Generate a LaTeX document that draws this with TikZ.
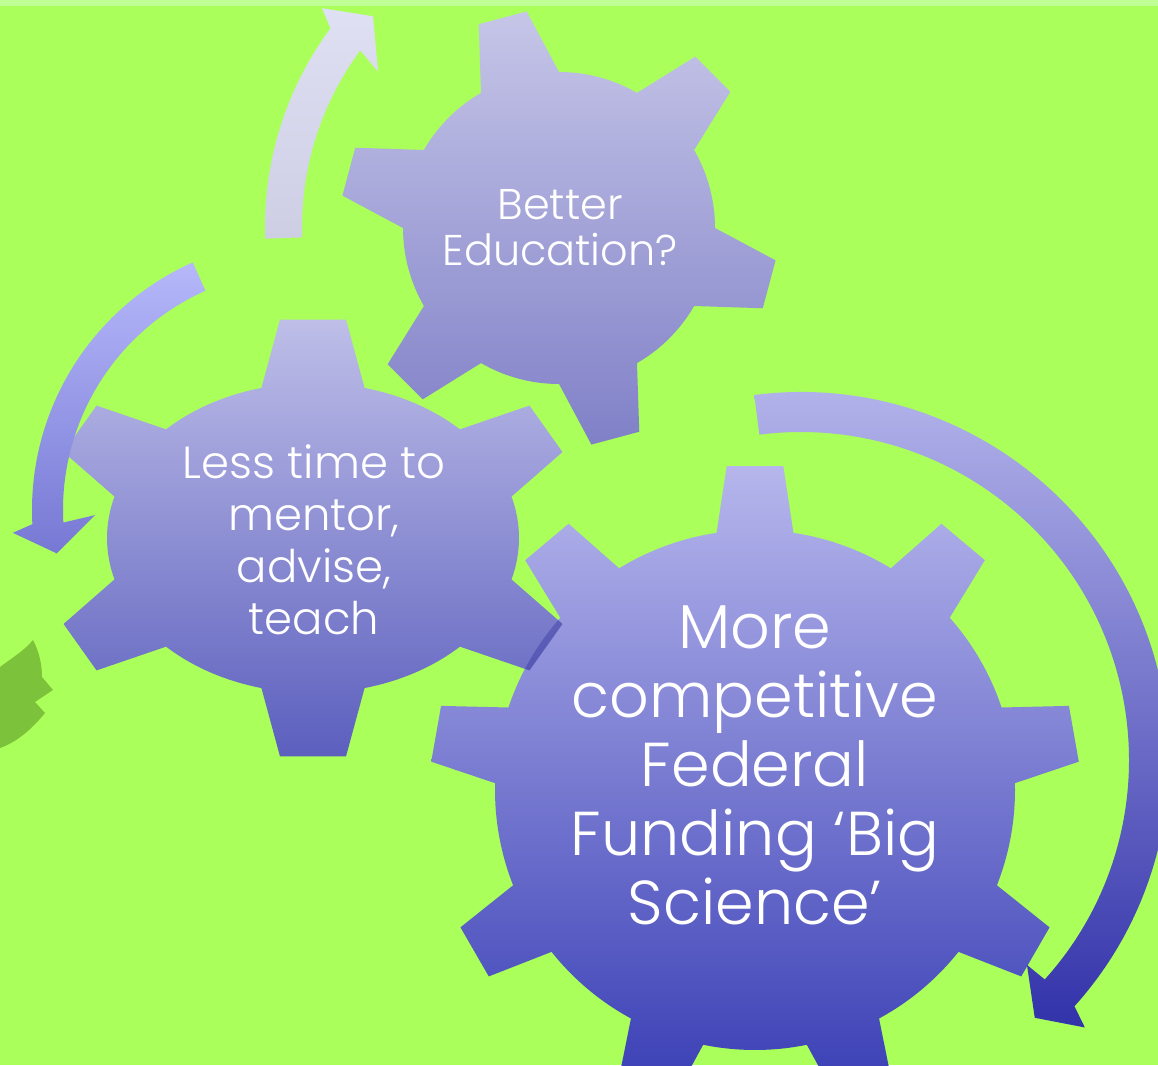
\documentclass[tikz,border=0pt]{standalone}
\usepackage{fontspec}
\setmainfont{Poppins Light}

\definecolor{lawn}{RGB}{170,255,90}
\definecolor{lawnpale}{RGB}{192,255,150}
\definecolor{leafdark}{RGB}{124,194,58}

\tikzset{
  gear label/.style={text=white, align=center, inner sep=0pt},
  gearedu/.style={top color={rgb,255:red,198;green,198;blue,232}, bottom color={rgb,255:red,128;green,128;blue,200}},
  gearmentor/.style={top color={rgb,255:red,190;green,190;blue,232}, bottom color={rgb,255:red,92;green,95;blue,190}},
  gearfund/.style={top color={rgb,255:red,182;green,182;blue,236}, bottom color={rgb,255:red,55;green,60;blue,180}},
  gearshadow/.style={fill={rgb,255:red,40;green,40;blue,150}, fill opacity=0.35},
  curlup/.style={top color={rgb,255:red,224;green,224;blue,244}, bottom color={rgb,255:red,205;green,205;blue,228}},
  curlleft/.style={top color={rgb,255:red,182;green,184;blue,250}, bottom color={rgb,255:red,118;green,120;blue,212}},
  curlright/.style={top color={rgb,255:red,182;green,182;blue,236}, bottom color={rgb,255:red,50;green,50;blue,170}},
}

% gear: path options, centre, body radii x/y, tooth height, teeth, turn, tip and foot half angles
\newcommand{\gearpath}[9]{%
  \pgfmathsetmacro\gstep{360/#6}%
  \pgfmathsetmacro\gRx{#3+#5}%
  \pgfmathsetmacro\gRy{#4+#5}%
  \path[#1, shift={(#2)}] ({#7+#9}:{#3} and {#4})
    \foreach \k in {1,...,#6}{
      arc[start angle={#7+(\k-1)*\gstep+#9}, end angle={#7+\k*\gstep-#9}, x radius=#3, y radius=#4]
      -- ({#7+\k*\gstep-#8}:{\gRx} and {\gRy}) -- ({#7+\k*\gstep+#8}:{\gRx} and {\gRy})
      -- ({#7+\k*\gstep+#9}:{#3} and {#4})
    } -- cycle;}

% curved arrow: style, centre, inner/outer radius, start, head foot, outer barb, tip, inner barb
\newcommand{\drawcurl}[9]{%
  \path[#1, shift={(#2)}] (#5:#4) arc[start angle=#5, end angle=#6, radius=#4]
    -- (#7) -- (#8) -- (#9) -- (#6:#3)
    arc[start angle=#6, end angle=#5, radius=#3] -- cycle;}

\begin{document}
\begin{tikzpicture}[x=1pt,y=1pt]
\useasboundingbox (0,0) rectangle (1158,1065);
\clip (0,0) rectangle (1158,1065);
\fill[lawn] (0,0) rectangle (1158,1065);
\fill[lawnpale] (0,1059) rectangle (1158,1065);

% leaf at the left edge
\fill[leafdark] (0,398) .. controls (12,407) and (25,415) .. (33,425)
  .. controls (40,412) and (42,398) .. (42,388) -- (53,375) -- (35,363)
  -- (45,352) .. controls (32,336) and (17,323) .. (0,317) -- cycle;

% gears
\gearpath{gearfund}{755,275}{260}{260}{65}{9}{90}{5}{8.5}
\gearpath{gearmentor}{313,527}{206}{155}{65}{6}{90}{7}{14.5}
\begin{scope}
\gearpath{clip}{755,275}{260}{260}{65}{9}{90}{5}{8.5}
\gearpath{gearshadow}{313,527}{206}{155}{65}{6}{90}{7}{14.5}
\end{scope}
\gearpath{gearedu}{559,837}{156}{156}{63}{6}{105}{6.5}{15}

% arrows
\drawcurl{curlup}{599,838}{297}{334}{182}{143.5}{141.7:353}{137:309}{144.9:270}
\drawcurl{curlleft}{303,555}{240}{271}{114}{183}{184.5:291}{190:250}{181.4:208}
\drawcurl{curlright}{801,305}{328}{368}{97.3}{-42}{-43.3:390}{-47.8:348}{-42.2:305}

\node[gear label, font=\fontsize{43}{46}\selectfont] (edu) at (560,837) {Better\\Education?};
\node[gear label, font=\fontsize{45}{52}\selectfont] (mentor) at (314,525) {Less time to\\mentor,\\advise,\\teach};
\node[gear label, font=\fontsize{62}{69}\selectfont] (funding) at (755,300) {More\\competitive\\Federal\\Funding ‘Big\\Science’};
\end{tikzpicture}
\end{document}
